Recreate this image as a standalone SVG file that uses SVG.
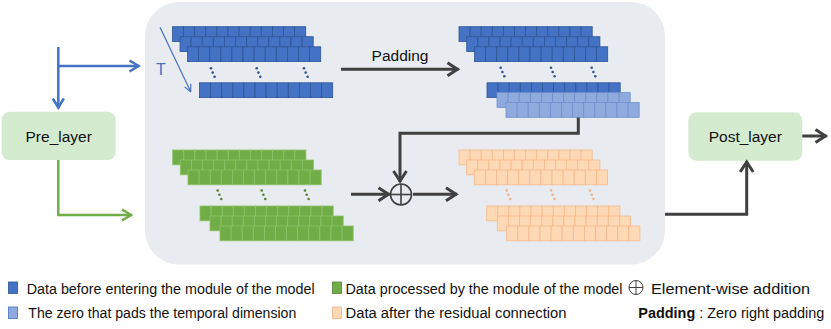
<svg xmlns="http://www.w3.org/2000/svg" xmlns:xlink="http://www.w3.org/1999/xlink" width="831" height="329" viewBox="0 0 831 329">
<style>
.txt{font-family:"Liberation Sans",Arial,sans-serif;fill:#111;}
.leg{font-size:14px;}
.cb{fill:#4472C4;stroke:#2F5597;stroke-width:0.8;}
.cl{fill:#8FAADC;stroke:#6F8FCF;stroke-width:0.8;}
.cg{fill:#70AD47;stroke:#8CC468;stroke-width:0.8;}
.co{fill:#FFD8B6;stroke:#F6B98A;stroke-width:0.8;}
.dark{stroke:#404040;stroke-width:3;fill:none;}
.blue{stroke:#4472C4;stroke-width:2.5;fill:none;}
.green{stroke:#70AD47;stroke-width:2.5;fill:none;}
.box{fill:#D5EBD0;}
</style>
<defs>
<g id="row">
<rect x="0" y="0" width="11.1" height="14.8"/><rect x="11.1" y="0" width="11.1" height="14.8"/><rect x="22.2" y="0" width="11.1" height="14.8"/><rect x="33.3" y="0" width="11.1" height="14.8"/><rect x="44.4" y="0" width="11.1" height="14.8"/><rect x="55.5" y="0" width="11.1" height="14.8"/><rect x="66.6" y="0" width="11.1" height="14.8"/><rect x="77.7" y="0" width="11.1" height="14.8"/><rect x="88.8" y="0" width="11.1" height="14.8"/><rect x="99.9" y="0" width="11.1" height="14.8"/><rect x="111" y="0" width="11.1" height="14.8"/><rect x="122.1" y="0" width="11.1" height="14.8"/>
</g>
<g id="dots"><circle cx="0" cy="0" r="1.3"/><circle cx="1.7" cy="4.3" r="1.3"/><circle cx="3.6" cy="8.5" r="1.3"/></g>
<marker id="ahD" markerUnits="userSpaceOnUse" viewBox="-13 -8 15 16" markerWidth="15" markerHeight="16" refX="0" refY="0" orient="auto">
<path d="M-11,-6.5 L-1,0 L-11,6.5" fill="none" stroke="#404040" stroke-width="3"/>
</marker>
<marker id="ahB" markerUnits="userSpaceOnUse" viewBox="-13 -8 15 16" markerWidth="15" markerHeight="16" refX="0" refY="0" orient="auto">
<path d="M-10,-5.5 L-1,0 L-10,5.5" fill="none" stroke="#4472C4" stroke-width="2.5"/>
</marker>
<marker id="ahG" markerUnits="userSpaceOnUse" viewBox="-13 -8 15 16" markerWidth="15" markerHeight="16" refX="0" refY="0" orient="auto">
<path d="M-10,-5.5 L-1,0 L-10,5.5" fill="none" stroke="#70AD47" stroke-width="2.5"/>
</marker>
<marker id="ahT" markerUnits="userSpaceOnUse" viewBox="-10 -6 11 12" markerWidth="11" markerHeight="12" refX="0" refY="0" orient="auto">
<path d="M-7,-3.5 L0,0 L-7,3.5" fill="none" stroke="#4472C4" stroke-width="1.2"/>
</marker>
</defs>

<g id="module-panel">
<rect x="145" y="2" width="520" height="262.5" rx="34" ry="34" fill="#E8EBEF"/>
</g>

<g id="input-data">
<g class="cb">
<use xlink:href="#row" x="172.5" y="26.7"/>
<use xlink:href="#row" x="180" y="36.7"/>
<use xlink:href="#row" x="187.5" y="46.8"/>
<use xlink:href="#row" x="199.5" y="82.8"/>
</g>
<g fill="#2F5597"><use xlink:href="#dots" x="211" y="68.3"/><use xlink:href="#dots" x="256.7" y="68.3"/><use xlink:href="#dots" x="304" y="68.3"/></g>
<line x1="160" y1="27.3" x2="190.7" y2="91.7" stroke="#4472C4" stroke-width="1.2" marker-end="url(#ahT)"/>
<text class="txt" x="161" y="75" font-size="16" text-anchor="middle" style="fill:#4472C4">T</text>
</g>

<g id="padded-data">
<g class="cb">
<use xlink:href="#row" x="459" y="26.7"/>
<use xlink:href="#row" x="466.7" y="36.7"/>
<use xlink:href="#row" x="474.5" y="46.8"/>
<use xlink:href="#row" x="487" y="82.8"/>
</g>
<g class="cl">
<use xlink:href="#row" x="497" y="92.6"/>
<use xlink:href="#row" x="506" y="102.5"/>
</g>
<g fill="#2F5597"><use xlink:href="#dots" x="500.7" y="67.7"/><use xlink:href="#dots" x="551" y="67.7"/><use xlink:href="#dots" x="591.7" y="67.7"/></g>
</g>

<g id="processed-data">
<g class="cg">
<use xlink:href="#row" x="172.7" y="150"/>
<use xlink:href="#row" x="180.3" y="160"/>
<use xlink:href="#row" x="188" y="170"/>
<use xlink:href="#row" x="200" y="206"/>
<use xlink:href="#row" x="210" y="216"/>
<use xlink:href="#row" x="220" y="226"/>
</g>
<g fill="#548235"><use xlink:href="#dots" x="217.7" y="190.5"/><use xlink:href="#dots" x="261.7" y="190.5"/><use xlink:href="#dots" x="305" y="190.5"/></g>
</g>

<g id="residual-data">
<g class="co">
<use xlink:href="#row" x="459" y="150"/>
<use xlink:href="#row" x="466.7" y="160"/>
<use xlink:href="#row" x="474.3" y="170"/>
<use xlink:href="#row" x="486.7" y="206"/>
<use xlink:href="#row" x="497.3" y="216"/>
<use xlink:href="#row" x="506.7" y="226"/>
</g>
<g fill="#F4B183"><use xlink:href="#dots" x="506.7" y="190.5"/><use xlink:href="#dots" x="551" y="190.5"/><use xlink:href="#dots" x="590" y="190.5"/></g>
</g>

<g id="add-node">
<circle cx="401" cy="194.5" r="10.5" fill="none" stroke="#404040" stroke-width="1.6"/>
<line x1="390.5" y1="194.5" x2="411.5" y2="194.5" stroke="#404040" stroke-width="1.6"/>
<line x1="401" y1="184" x2="401" y2="205" stroke="#404040" stroke-width="1.6"/>
</g>

<g id="pre-layer">
<rect class="box" x="1.7" y="111.7" width="114" height="48.3" rx="8"/>
<text class="txt" x="58.7" y="141.7" font-size="15.5" text-anchor="middle">Pre_layer</text>
</g>

<g id="post-layer">
<rect class="box" x="688.3" y="112.3" width="114" height="48.4" rx="8"/>
<text class="txt" x="745.3" y="141.7" font-size="15.5" text-anchor="middle">Post_layer</text>
</g>

<g id="connectors">
<path class="blue" d="M58.3,47 V108.5" marker-end="url(#ahB)"/>
<path class="blue" d="M58.3,66 H139.5" marker-end="url(#ahB)"/>
<path class="green" d="M58.3,160 V215 H132" marker-end="url(#ahG)"/>
<path class="dark" d="M341,69.3 H458.5" marker-end="url(#ahD)"/>
<text class="txt" x="400" y="60.7" font-size="15.5" text-anchor="middle">Padding</text>
<path class="dark" d="M578.3,117.5 V133.3 H400 V182" marker-end="url(#ahD)"/>
<path class="dark" d="M351,194.3 H389.5" marker-end="url(#ahD)"/>
<path class="dark" d="M413,194.3 H457" marker-end="url(#ahD)"/>
<path class="dark" d="M665,214.3 H746.7 V161" marker-end="url(#ahD)"/>
<path class="dark" d="M802.3,136 H826.5" marker-end="url(#ahD)"/>
</g>

<g id="legend">
<rect x="8.5" y="282" width="9" height="11.5" fill="#4472C4" stroke="#2F5597" stroke-width="0.8"/>
<text class="txt leg" x="26.7" y="294" textLength="288" lengthAdjust="spacingAndGlyphs">Data before entering the module of the model</text>
<rect x="332.5" y="282" width="9" height="11.5" fill="#70AD47" stroke="#548235" stroke-width="0.8"/>
<text class="txt leg" x="345.5" y="294" textLength="277" lengthAdjust="spacingAndGlyphs">Data processed by the module of the model</text>
<circle cx="636" cy="287.5" r="7" fill="none" stroke="#404040" stroke-width="1"/>
<line x1="629" y1="287.5" x2="643" y2="287.5" stroke="#404040" stroke-width="1"/>
<line x1="636" y1="280.5" x2="636" y2="294.5" stroke="#404040" stroke-width="1"/>
<text class="txt leg" x="651" y="294" textLength="159" lengthAdjust="spacingAndGlyphs">Element-wise addition</text>
<rect x="8.5" y="307" width="9" height="11.5" fill="#8FAADC" stroke="#4472C4" stroke-width="0.8"/>
<text class="txt leg" x="28.3" y="318.3" textLength="268" lengthAdjust="spacingAndGlyphs">The zero that pads the temporal dimension</text>
<rect x="332.5" y="307" width="9" height="11.5" fill="#FFD8B6" stroke="#F4B183" stroke-width="0.8"/>
<text class="txt leg" x="345.5" y="318.3" textLength="221" lengthAdjust="spacingAndGlyphs">Data after the residual connection</text>
<text class="txt leg" x="638.3" y="318.3" textLength="186" lengthAdjust="spacingAndGlyphs"><tspan font-weight="bold">Padding</tspan> : Zero right padding</text>
</g>
</svg>
